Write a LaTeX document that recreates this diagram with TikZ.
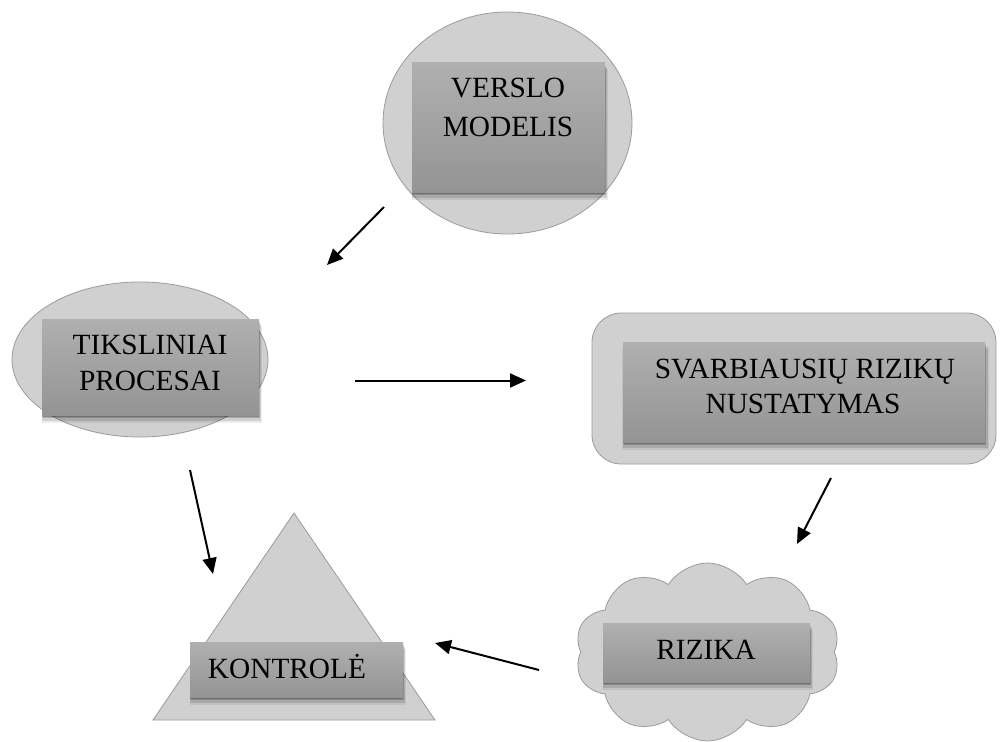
\documentclass[tikz,border=0pt]{standalone}
\usepackage{fontspec}
\setmainfont{Liberation Serif}
\usetikzlibrary{shapes.geometric,shapes.symbols,shadows,arrows.meta}
\def\pxu{0.75pt}
\definecolor{outerfill}{RGB}{208,208,208}
\definecolor{outerline}{RGB}{155,155,155}
\definecolor{boxtop}{RGB}{176,176,176}
\definecolor{boxbot}{RGB}{148,148,148}
\tikzset{
  outer/.style={draw=outerline, line width=0.6pt, fill=outerfill, inner sep=0pt},
  box/.style={rectangle, inner sep=0pt, top color=boxtop, bottom color=boxbot, draw=none,
    general shadow={fill=black, opacity=0.07, shadow xshift=1pt, shadow yshift=-5.5pt, shadow scale=1.015},
    general shadow={fill=black, opacity=0.12, shadow xshift=0.8pt, shadow yshift=-4pt, shadow scale=1.008},
    general shadow={fill=black, opacity=0.18, shadow xshift=0.5pt, shadow yshift=-2.5pt},
    general shadow={fill=black, opacity=0.2, shadow xshift=0.3pt, shadow yshift=-1.2pt}},
  lbl/.style={anchor=base, inner sep=0pt, font=\fontsize{22}{27}\selectfont, text=black},
  arr/.style={line width=1.5pt, -{Triangle[length=12pt,width=10.5pt]}}
}
\begin{document}
\begin{tikzpicture}[x=0.75pt,y=-0.75pt]
\useasboundingbox (0,0) rectangle (1000,742);
% outer shapes
\node[outer, ellipse, minimum width=249*\pxu, minimum height=222*\pxu] (vmo) at (507.5,123) {};
\node[outer, ellipse, minimum width=256*\pxu, minimum height=155*\pxu] (tpo) at (140,359.5) {};
\node[outer, rectangle, rounded corners=22pt, minimum width=404*\pxu, minimum height=151*\pxu] (sro) at (794,388.5) {};
\draw[outer] (294,513) -- (435,720) -- (153,720) -- cycle;
\node[outer, cloud, cloud puffs=10, cloud puff arc=115, minimum width=265*\pxu, minimum height=178*\pxu] (rio) at (707.5,652) {};
% inner boxes
\node[box, minimum width=193*\pxu, minimum height=129*\pxu] (vm) at (508.5,127.5) {};
\node[box, minimum width=217*\pxu, minimum height=96*\pxu] (tp) at (150.5,367) {};
\node[box, minimum width=362*\pxu, minimum height=100*\pxu] (sr) at (804,392) {};
\node[box, minimum width=213*\pxu, minimum height=55*\pxu] (ko) at (296.5,669.5) {};
\node[box, minimum width=207*\pxu, minimum height=59*\pxu] (ri) at (706.5,652.5) {};
% labels
\node[lbl] (vm1) at (508,98) {VERSLO};
\node[lbl] (vm2) at (508,137) {MODELIS};
\node[lbl] (tp1) at (150,354) {TIKSLINIAI};
\node[lbl] (tp2) at (150,390) {PROCESAI};
\node[lbl] (sr1) at (805,378) {SVARBIAUSIŲ RIZIKŲ};
\node[lbl] (sr2) at (803,413) {NUSTATYMAS};
\node[lbl] (ko1) at (287,678) {KONTROLĖ};
\node[lbl] (ri1) at (706,659) {RIZIKA};
% arrow endpoints
\coordinate (a1s) at (384,207); \coordinate (a1e) at (327,265);
\coordinate (a2s) at (355,380.5); \coordinate (a2e) at (526,380.5);
\coordinate (a3s) at (831,478); \coordinate (a3e) at (797,544);
\coordinate (a4s) at (539,670); \coordinate (a4e) at (435,643);
\coordinate (a5s) at (190,470); \coordinate (a5e) at (213,574);
\draw[arr] (a1s) -- (a1e);
\draw[arr] (a2s) -- (a2e);
\draw[arr] (a3s) -- (a3e);
\draw[arr] (a4s) -- (a4e);
\draw[arr] (a5s) -- (a5e);
\end{tikzpicture}
\end{document}
